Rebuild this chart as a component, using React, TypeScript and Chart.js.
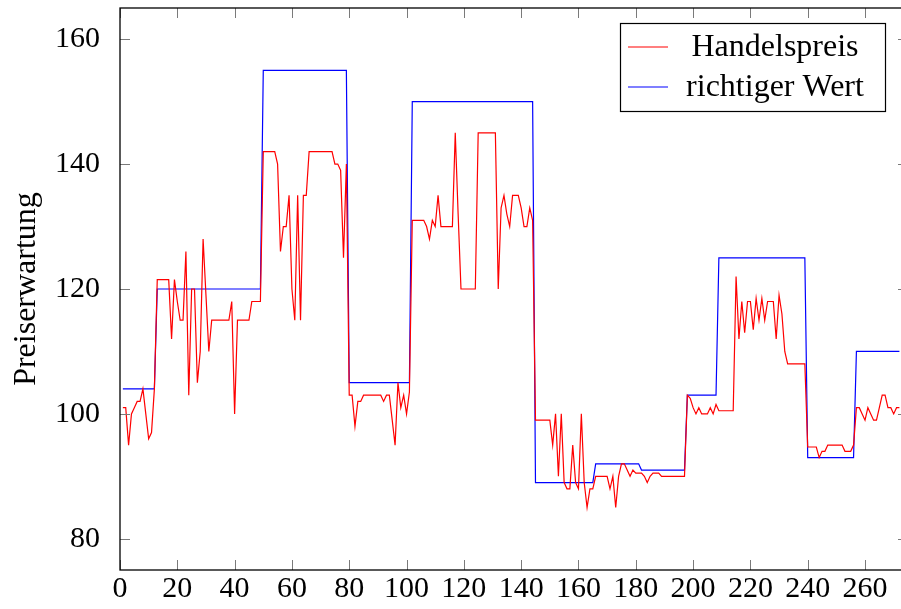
import React, { useEffect, useRef } from 'react';
import { Chart, registerables } from 'chart.js';

Chart.register(...registerables);

// Handelspreis: one value per step, x = 1, 2, 3, ...
const tradePrice: number[] = [
  101, 101, 95, 100, 101, 102, 102, 104, 100, 96,
  97, 104, 121.5, 121.5, 121.5, 121.5, 121.5, 112, 121.5, 118,
  115, 115, 126, 103, 120, 120, 105, 110, 128, 119,
  110, 115, 115, 115, 115, 115, 115, 115, 118, 100,
  115, 115, 115, 115, 115, 118, 118, 118, 118, 142,
  142, 142, 142, 142, 140, 126, 130, 130, 135, 120,
  115, 135, 115, 135, 135, 142, 142, 142, 142, 142,
  142, 142, 142, 142, 140, 140, 139, 125, 140, 103,
  103, 98, 102, 102, 103, 103, 103, 103, 103, 103,
  103, 102, 103, 103, 99, 95, 105, 101, 103, 100,
  103.5, 131, 131, 131, 131, 131, 130, 128, 131, 130,
  135, 130, 130, 130, 130, 130, 145, 132, 120, 120,
  120, 120, 120, 120, 145, 145, 145, 145, 145, 145,
  145, 120, 133, 135, 132, 130, 135, 135, 135, 133,
  130, 130, 133, 131, 99, 99, 99, 99, 99, 99,
  95, 100, 90, 100, 89, 88, 88, 95, 89, 88,
  100, 89, 85, 88, 88, 90, 90, 90, 90, 90,
  88, 90, 85, 90, 92, 92, 91, 90, 91, 90.5,
  90.5, 90.5, 90, 89, 90, 90.5, 90.5, 90.5, 90, 90,
  90, 90, 90, 90, 90, 90, 90, 103, 102.5, 101,
  100, 101, 100, 100, 100, 101, 100, 101.5, 100.5, 100.5,
  100.5, 100.5, 100.5, 100.5, 122, 112, 118, 113, 118, 118,
  113.5, 118.5, 115, 118.5, 115, 118, 118, 118, 112, 119,
  116, 110, 108, 108, 108, 108, 108, 108, 108, 94.7,
  94.7, 94.7, 94.7, 93, 94, 94, 95, 95, 95, 95,
  95, 95, 94, 94, 94, 95, 101, 101, 100, 99,
  101, 100, 99, 99, 101, 103, 103, 101, 101, 100,
  101, 101,
];

// richtiger Wert: corner points of the step line
const trueValueX: number[] = [1, 12, 13, 49, 50, 79, 80, 101, 102, 144, 145, 165, 166, 181, 182, 197, 198, 208, 209, 239, 240, 256, 257, 272];
const trueValueY: number[] = [104, 104, 120, 120, 155, 155, 105, 105, 150, 150, 89, 89, 92, 92, 91, 91, 103, 103, 125, 125, 93, 93, 110, 110];

const xTicks: number[] = [0, 20, 40, 60, 80, 100, 120, 140, 160, 180, 200, 220, 240, 260];
const yTicks: number[] = [80, 100, 120, 140, 160];
const seriesLabels: string[] = ['Handelspreis', 'richtiger Wert'];
const seriesColors: string[] = ['#ff0000', '#0000ff'];
const yTitle = 'Preiserwartung';

const FONT = "'Liberation Serif', 'Times New Roman', serif";

const frameTicksPlugin = {
  id: 'frameTicks',
  afterDatasetsDraw(chart: any) {
    const { ctx, chartArea: a, scales } = chart;
    ctx.save();
    ctx.strokeStyle = '#7a7a7a';
    ctx.lineWidth = 1;
    const tl = 10;
    for (const v of xTicks) {
      const px = Math.round(scales.x.getPixelForValue(v)) + 0.5;
      ctx.beginPath();
      ctx.moveTo(px, a.bottom);
      ctx.lineTo(px, a.bottom - tl);
      ctx.moveTo(px, a.top);
      ctx.lineTo(px, a.top + tl);
      ctx.stroke();
    }
    for (const v of yTicks) {
      const py = Math.round(scales.y.getPixelForValue(v)) + 0.5;
      ctx.beginPath();
      ctx.moveTo(a.left, py);
      ctx.lineTo(a.left + tl, py);
      ctx.moveTo(a.right, py);
      ctx.lineTo(a.right - tl, py);
      ctx.stroke();
    }
    ctx.strokeStyle = '#000';
    ctx.lineWidth = 1.3;
    ctx.strokeRect(a.left, a.top, a.right - a.left, a.bottom - a.top);
    ctx.restore();
  },
};

const legendBoxPlugin = {
  id: 'legendBox',
  afterDraw(chart: any) {
    const { ctx, chartArea: a } = chart;
    const left = a.left + 500;
    const top = a.top + 15;
    const w = 265;
    const h = 88;
    ctx.save();
    ctx.fillStyle = '#fff';
    ctx.fillRect(left, top, w, h);
    ctx.strokeStyle = '#000';
    ctx.lineWidth = 1.2;
    ctx.strokeRect(left + 0.5, top + 0.5, w, h);
    ctx.font = `32px ${FONT}`;
    ctx.textAlign = 'center';
    ctx.textBaseline = 'middle';
    chart.data.datasets.forEach((ds: any, i: number) => {
      const cy = top + 24 + i * 40;
      ctx.strokeStyle = ds.borderColor;
      ctx.lineWidth = 1.2;
      ctx.beginPath();
      ctx.moveTo(left + 8, cy);
      ctx.lineTo(left + 48, cy);
      ctx.stroke();
      ctx.fillStyle = '#000';
      ctx.fillText(ds.label, left + 155, cy + 1);
    });
    ctx.restore();
  },
};

export default function App() {
  const canvasRef = useRef<HTMLCanvasElement | null>(null);

  useEffect(() => {
    document.body.style.margin = '0';
    document.body.style.overflow = 'hidden';
    document.documentElement.style.overflow = 'hidden';
    const canvas = canvasRef.current;
    if (!canvas) return;

    const redData = tradePrice.map((v, i) => ({ x: i + 1, y: v }));
    const blueData = trueValueX.map((x, i) => ({ x, y: trueValueY[i] }));

    const chart = new Chart(canvas, {
      type: 'line',
      data: {
        datasets: [
          {
            label: seriesLabels[0],
            data: redData,
            borderColor: seriesColors[0],
            backgroundColor: seriesColors[0],
            borderWidth: 1.2,
            pointRadius: 0,
            tension: 0,
          },
          {
            label: seriesLabels[1],
            data: blueData,
            borderColor: seriesColors[1],
            backgroundColor: seriesColors[1],
            borderWidth: 1.2,
            pointRadius: 0,
            tension: 0,
          },
        ],
      },
      options: {
        animation: false,
        responsive: true,
        maintainAspectRatio: false,
        layout: { padding: { top: 8, right: 3, left: 0, bottom: 0 } },
        plugins: {
          legend: { display: false },
          tooltip: { enabled: false },
        },
        scales: {
          x: {
            type: 'linear',
            min: 0,
            max: 275,
            grid: { display: false },
            border: { display: false },
            ticks: {
              color: '#000',
              font: { family: FONT, size: 30 },
              padding: -7,
              maxRotation: 0,
              autoSkip: false,
            },
            afterBuildTicks: (scale: any) => {
              scale.ticks = xTicks.map((v) => ({ value: v }));
            },
            afterFit: (scale: any) => {
              scale.height = 39;
              scale.paddingLeft = 0;
              scale.paddingRight = 0;
            },
          },
          y: {
            type: 'linear',
            min: 75,
            max: 165,
            grid: { display: false },
            border: { display: false },
            title: {
              display: true,
              text: yTitle,
              color: '#000',
              font: { family: FONT, size: 32 },
              padding: { top: 7, bottom: 0 },
            },
            ticks: {
              color: '#000',
              font: { family: FONT, size: 30 },
              padding: 12,
            },
            afterBuildTicks: (scale: any) => {
              scale.ticks = yTicks.map((v) => ({ value: v }));
            },
            afterFit: (scale: any) => {
              scale.width = 120;
              scale.paddingTop = 0;
              scale.paddingBottom = 0;
            },
          },
        },
      },
      plugins: [frameTicksPlugin, legendBoxPlugin],
    });

    return () => chart.destroy();
  }, []);

  return (
    <div style={{ width: 901, height: 609, overflow: 'hidden', position: 'relative' }}>
      <div style={{ position: 'absolute', left: 0, top: 0, width: 911, height: 609 }}>
        <canvas ref={canvasRef} />
      </div>
    </div>
  );
}
